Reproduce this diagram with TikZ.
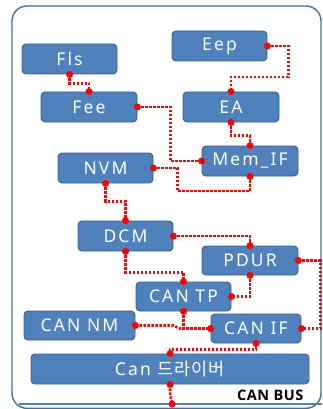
\documentclass[tikz,border=0pt]{standalone}
\usepackage{fontspec}
\setmainfont{Noto Sans}[LetterSpace=12]
\newfontfamily\kr{Noto Sans CJK KR}[LetterSpace=6]
\newfontfamily\busfont{Open Sans}[BoldFont={Open Sans Bold}, LetterSpace=4]
\definecolor{boxfill}{HTML}{4F81BD}
\definecolor{boxline}{HTML}{385D8A}
\definecolor{framecol}{HTML}{41719C}
\definecolor{conncol}{HTML}{FF0000}
\tikzset{
  mod/.style={draw=boxline, line width=0.9pt, fill=boxfill, rounded corners=4pt,
    text=white, font=\fontsize{17.5}{19}\selectfont, inner sep=0pt,
    minimum width=#1, minimum height=30pt},
  mod/.default=95pt,
  conn/.style={draw=conncol, line width=2.6pt, dash pattern=on 2.4pt off 1.6pt},
  pin/.style={fill=conncol, draw=none},
}
\newcommand{\pins}[1]{\foreach \p in {#1} {\fill[pin] (\p) circle (3.5pt);}}
\begin{document}
\begin{tikzpicture}[x=1pt,y=-1pt]
\useasboundingbox (0,0) rectangle (322,409);
% frame
\draw[framecol, line width=1.4pt, rounded corners=15pt] (12,6) rectangle (321,408.3);
\draw[boxfill, line width=2pt] (19,404) -- (322,404);
\coordinate (busdot) at (172,404);
\node[font=\busfont\bfseries\fontsize{14.5}{16}\selectfont, anchor=east] (bus) at (307,395) {CAN BUS};
% modules
\node[mod] (fls) at (69.5,59) {Fls};
\node[mod=96pt] (fee) at (89,107) {Fee};
\node[mod] (eep) at (219.5,46) {Eep};
\node[mod=96pt] (ea) at (231,107) {EA};
\node[mod=96pt] (memif) at (250,161) {Mem\_IF};
\node[mod] (nvm) at (105.5,168) {NVM};
\node[mod] (dcm) at (125.5,236) {DCM};
\node[mod=96pt, minimum height=29pt] (pdur) at (250,260.5) {PDUR};
\node[mod, minimum height=29pt] (cantp) at (183.5,296.5) {CAN TP};
\node[mod=111pt, minimum height=29pt] (cannm) at (79.5,325.5) {CAN NM};
\node[mod=90pt, minimum height=29pt] (canif) at (256,328.5) {CAN IF};
\node[mod=278pt] (candrv) at (170,369) {Can {\kr 드라이버}};
% connectors
\draw[conn] (fls.south) -- ++(0,9) -| (fee.north);
\draw[conn] (fee.east) -- ++(33,0) |- (memif.west);
\draw[conn] (eep.east) -- ++(21,0) -- ++(0,31) -| (ea.north);
\draw[conn] (ea.south) -- ++(0,13) -| (memif.north);
\draw[conn] (nvm.east) -- ++(24,0) -- ++(0,23) -| (memif.south);
\draw[conn] (nvm.south) -- ++(0,18) -| (dcm.north);
\draw[conn] (dcm.east) -| (pdur.north);
\draw[conn] (dcm.south) -- ++(0,21) -| (cantp.north);
\draw[conn] (pdur.south) |- (cantp.east);
\draw[conn] (pdur.east) -- ++(22,0) |- (canif.east);
\draw[conn] (cantp.south) |- (canif.west);
\draw[conn] (cannm.east) -- ++(38,0) -- ++(6,3) -- (canif.west);
\draw[conn] (canif.south) -- ++(0,6) -| (candrv.north);
\draw[conn] (candrv.south) -- ++(0,8) -- (busdot);
\pins{fls.south,fee.north,fee.east,memif.west,eep.east,ea.north,ea.south,memif.north,
  nvm.east,memif.south,nvm.south,dcm.north,dcm.east,pdur.north,dcm.south,cantp.north,
  pdur.south,cantp.east,pdur.east,canif.east,cantp.south,canif.west,cannm.east,
  canif.south,candrv.north,candrv.south,busdot}
\end{tikzpicture}
\end{document}
